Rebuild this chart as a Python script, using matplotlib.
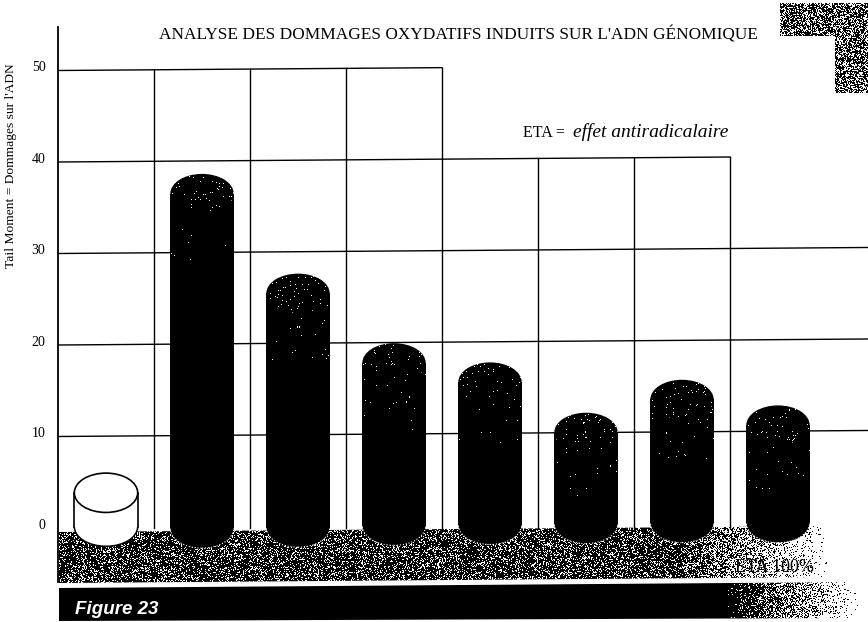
import numpy as np
import matplotlib
matplotlib.use("Agg")
import matplotlib.pyplot as plt
from matplotlib.patches import Ellipse, Rectangle, Polygon
from matplotlib.transforms import ScaledTranslation

plt.rcParams['font.family'] = ['Liberation Serif', 'DejaVu Serif']

categories = ['Témoin', 'A', 'B', 'C', 'D', 'E', 'F', 'G']
values = [6.0, 38.7, 27.8, 20.2, 18.1, 12.6, 16.2, 13.4]
bases = [-2.0, -2.2, -2.1, -1.9, -1.8, -1.7, -1.6, -1.6]
yticks = [0, 10, 20, 30, 40, 50]
W, H = 868, 622
TILT = 0.078  # the page was scanned slightly crooked

rng = np.random.default_rng(23)

def stipple(h, w, density):
    # speckled print texture, density 0..1 is the share of black
    return (rng.random((h, w)) > density).astype(float)

def faded(img, x_left, x_start, x_end):
    # let the texture dissolve to white between x_start and x_end
    xs = x_left + np.arange(img.shape[1])
    keep = np.clip((x_end - xs) / (x_end - x_start), 0, 1)
    return np.where(rng.random(img.shape) < keep, img, 1.0)

def white_dots(h, w, density):
    img = np.zeros((h, w, 4))
    img[..., :3] = 1
    img[..., 3] = rng.random((h, w)) < density
    return img

fig = plt.figure(figsize=(W / 100, H / 100), dpi=100)

# pixel coordinates layer for the printed decoration
bg = fig.add_axes([0, 0, 1, 1])
bg.axis('off')

# main chart, pixel x 58..868, y=0 at pixel 528, 9.15 px per unit
x0, x1 = 58, 868
ytop, ybot = 27, 582
ax = fig.add_axes([x0 / W, 1 - ybot / H, (x1 - x0) / W, (ybot - ytop) / H])
ax.patch.set_alpha(0)
xlim = (-0.5, (x1 - x0) / 96 - 0.5)
ylim = ((528 - ybot) / 9.15, (528 - ytop) / 9.15)
for s in ['top', 'right', 'bottom']:
    ax.spines[s].set_visible(False)
ax.spines['left'].set_linewidth(1.3)
ax.set_xticks([])
ax.set_yticks(yticks)
ax.tick_params(axis='y', length=0, labelsize=10, pad=9)
for lab in ax.get_yticklabels():
    lab.set_transform(lab.get_transform() + ScaledTranslation(0, 3 / 72, fig.dpi_scale_trans))

def tilted(x):
    return TILT * (np.asarray(x) + 0.5)

# grid, stepped at the top like the original
for v, xend in zip([50, 40, 30, 20, 10], [3.5, 6.5, xlim[1], xlim[1], xlim[1]]):
    xs = np.array([-0.5, xend])
    ax.plot(xs, v + tilted(xs), color='black', lw=1, zorder=1)
for i in range(7):
    xv = i + 0.5
    ax.plot([xv, xv], [0, (50 if i < 4 else 40) + tilted(xv)], color='black', lw=1, zorder=1)

# grey floor with fade on the right
floor = faded(stipple(60, 790, 0.76), 59, 680, 830)
im = bg.imshow(floor, cmap='gray', vmin=0, vmax=1, extent=(59, 849, 585, 525), aspect='auto',
               interpolation='nearest', zorder=2)
clip = Polygon([(59, 532), (849, 526), (849, 577), (59, 583)], transform=bg.transData, fc='none', ec='none')
bg.add_patch(clip)
im.set_clip_path(clip)

# black caption band
band = faded(np.zeros((44, 810)), 59, 725, 858)
im = bg.imshow(band, cmap='gray', vmin=0, vmax=1, extent=(59, 869, 622, 578), aspect='auto',
               interpolation='nearest', zorder=2)
clip = Polygon([(59, 588), (869, 582), (869, 618), (59, 621)], transform=bg.transData, fc='none', ec='none')
bg.add_patch(clip)
im.set_clip_path(clip)
bg.text(75, 614, 'Figure 23', color='white', fontsize=13.5, style='italic', weight='bold',
        family=['Liberation Sans', 'DejaVu Sans'], zorder=3)

# corner block top right
bg.imshow(stipple(33, 88, 0.6), cmap='gray', vmin=0, vmax=1, extent=(780, 868, 36, 3), aspect='auto',
          interpolation='nearest', zorder=2)
bg.imshow(stipple(57, 33, 0.6), cmap='gray', vmin=0, vmax=1, extent=(835, 868, 93, 36), aspect='auto',
          interpolation='nearest', zorder=2)
bg.set_xlim(0, W)
bg.set_ylim(H, 0)

# cylinders
bar_w = 0.66
cap_h = 4.3
for i, (b, v) in enumerate(zip(bases, values)):
    white = i == 0
    fc = 'white' if white else 'black'
    ec = 'black' if white else 'none'
    left = i - bar_w / 2
    ax.add_patch(Rectangle((left, b + cap_h / 2), bar_w, v - b - cap_h, fc=fc, ec='none', zorder=4))
    bottom = Ellipse((i, b + cap_h / 2), bar_w, cap_h, fc=fc, ec=ec if white else 'white', lw=1.1 if white else 0.8,
                     ls='-' if white else ':', zorder=3.9)
    ax.add_patch(bottom)
    top = Ellipse((i, v - cap_h / 2), bar_w, cap_h, fc=fc, ec=ec, lw=1.2, zorder=5)
    ax.add_patch(top)
    if white:
        for sx in (left, left + bar_w):
            ax.plot([sx, sx], [b + cap_h / 2, v - cap_h / 2], color='black', lw=1.2, zorder=4.5)
    else:
        # sparse print speckle in the cap and just below it
        im = ax.imshow(white_dots(40, 64, 0.02), extent=(left, left + bar_w, v - cap_h, v), aspect='auto',
                       interpolation='nearest', zorder=5.1)
        im.set_clip_path(top)
        y_low = max(v - cap_h * 2.2, b + cap_h / 2)
        ax.imshow(white_dots(int((v - cap_h / 2 - y_low) * 9.15), 64, 0.005),
                  extent=(left, left + bar_w, y_low, v - cap_h / 2), aspect='auto',
                  interpolation='nearest', zorder=4.6)

ax.set_xlim(*xlim)
ax.set_ylim(*ylim)

fig.text(11 / W, 1 - 166 / H, "Tail Moment = Dommages sur l'ADN", fontsize=9.7, rotation=90, ha='center', va='center')
fig.text(159 / W, 1 - 40 / H, "ANALYSE DES DOMMAGES OXYDATIFS INDUITS SUR L'ADN GÉNOMIQUE", fontsize=12.4, va='baseline')
fig.text(523 / W, 1 - 137 / H, 'ETA = ', fontsize=11.5, va='baseline')
fig.text(573 / W, 1 - 137 / H, 'effet antiradicalaire', fontsize=14, style='italic', va='baseline')
bg.text(814, 572, 'ETA 100%', fontsize=13, ha='right', zorder=6)

fig.savefig('out.png', dpi=100)
